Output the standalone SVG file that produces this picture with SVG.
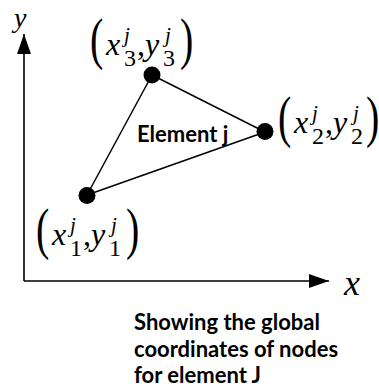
<svg xmlns="http://www.w3.org/2000/svg" width="379" height="387" viewBox="0 0 379 387">
<style>
.ax{stroke:#000;stroke-width:1.6;fill:none}
.edge{stroke:#000;stroke-width:1.5;fill:none}
.node{fill:#000}
.m{font-family:"Liberation Serif","Times New Roman",serif;fill:#000}
.it{font-style:italic;font-size:32px}
.cm{font-size:32px}
.sup{font-style:italic;font-size:21px}
.sub{font-size:24px}
.par{font-size:40px}
.lbl{font-family:Lato,"Open Sans",sans-serif;font-weight:bold;font-size:22px;fill:#000}
</style>
<defs>
<marker id="ah" viewBox="0 0 20 14" refX="20" refY="7" markerWidth="20" markerHeight="14" markerUnits="userSpaceOnUse" orient="auto">
<path d="M0,0 L20,7 L0,14 Z" fill="#000"/>
</marker>
</defs>
<rect width="379" height="387" fill="#fff"/>
<g id="axes">
<path class="ax" d="M24,281 L24,34" marker-end="url(#ah)"/>
<path class="ax" d="M24,281 L329,281" marker-end="url(#ah)"/>
<text class="m" x="14" y="27" style="font-style:italic;font-size:28px">y</text>
<text class="m" x="344" y="295" style="font-style:italic;font-size:36px">x</text>
</g>
<g id="connectors">
<line class="edge" x1="87" y1="195" x2="152" y2="75"/>
<line class="edge" x1="152" y1="75" x2="265" y2="132"/>
<line class="edge" x1="87" y1="195" x2="265" y2="132"/>
</g>
<g id="node1">
<circle class="node" cx="87" cy="195.5" r="8.5"/>
<g transform="translate(38,245)">
<text class="m par" transform="translate(-2,3) scale(1,1.44)">(</text>
<text class="m it" x="14" y="0">x</text>
<text class="m sup" x="32" y="-13">j</text>
<text class="m sub" x="32" y="11">1</text>
<text class="m cm" x="45" y="0">,</text>
<text class="m it" x="53" y="0">y</text>
<text class="m sup" x="73" y="-13">j</text>
<text class="m sub" x="71" y="11">1</text>
<text class="m par" transform="translate(88,3) scale(1,1.44)">)</text>
</g>
</g>
<g id="node2">
<circle class="node" cx="265" cy="131.5" r="8.5"/>
<g transform="translate(280,133)">
<text class="m par" transform="translate(-2,3) scale(1,1.44)">(</text>
<text class="m it" x="14" y="0">x</text>
<text class="m sup" x="32" y="-13">j</text>
<text class="m sub" x="32" y="11">2</text>
<text class="m cm" x="45" y="0">,</text>
<text class="m it" x="53" y="0">y</text>
<text class="m sup" x="73" y="-13">j</text>
<text class="m sub" x="71" y="11">2</text>
<text class="m par" transform="translate(86,3) scale(1,1.44)">)</text>
</g>
</g>
<g id="node3">
<circle class="node" cx="152" cy="75" r="8.5"/>
<g transform="translate(92,55)">
<text class="m par" transform="translate(-2,3) scale(1,1.44)">(</text>
<text class="m it" x="14" y="0">x</text>
<text class="m sup" x="32" y="-13">j</text>
<text class="m sub" x="32" y="11">3</text>
<text class="m cm" x="45" y="0">,</text>
<text class="m it" x="53" y="0">y</text>
<text class="m sup" x="73" y="-13">j</text>
<text class="m sub" x="71" y="11">3</text>
<text class="m par" transform="translate(88,3) scale(1,1.44)">)</text>
</g>
</g>
<g id="element-label">
<text class="lbl" x="137" y="142">Element j</text>
</g>
<g id="caption">
<text class="lbl" x="134" y="330">Showing the global</text>
<text class="lbl" x="134" y="357">coordinates of nodes</text>
<text class="lbl" x="134" y="383">for element J</text>
</g>
</svg>
